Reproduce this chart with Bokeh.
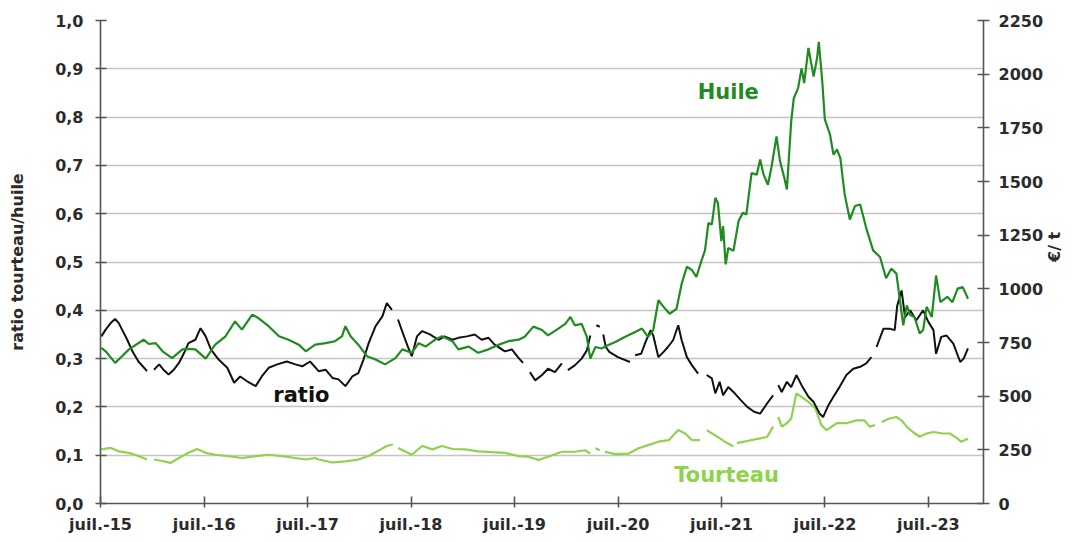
import math
import numpy as np
import pandas as pd
from bokeh.plotting import figure
from bokeh.models import (LinearAxis, Range1d, FixedTicker, CustomJSTickFormatter,
                          Label, ColumnDataSource)
from bokeh.embed import file_html
from bokeh.resources import INLINE

# ---------------- data (x = months since July 2015, None = gap) ----------------
huile = [(0.1, 725), (0.6, 709), (1.7, 655), (2.5, 686), (3.3, 718), (5.0, 763), (5.6, 743),
         (6.4, 747), (7.2, 709), (8.3, 677), (9.5, 718), (10.2, 720), (11.0, 718), (12.2, 675),
         (13.3, 740), (14.5, 779), (15.6, 848), (16.4, 810), (17.6, 880), (18.3, 864),
         (19.5, 826), (20.7, 779), (21.8, 763), (23.0, 740), (23.8, 709), (24.9, 740),
         (26.1, 747), (27.2, 756), (28.0, 779), (28.4, 826), (29.0, 779), (29.9, 740),
         (30.9, 686), (31.9, 671), (33.0, 648), (34.2, 677), (35.0, 718), (36.1, 702),
         (36.9, 747), (37.7, 731), (38.8, 763), (39.6, 779), (40.8, 756), (41.5, 718),
         (42.7, 731), (43.8, 702), (45.0, 718), (46.2, 740), (47.3, 756), (48.5, 763),
         (49.2, 777), (50.2, 824), (51.2, 808), (51.9, 783), (53.1, 815), (53.9, 837),
         (54.5, 869), (55.0, 830), (55.8, 837), (56.4, 776), (56.8, 675), (57.4, 729),
         (58.1, 722), (58.9, 738), (59.7, 752), (60.8, 776), (62.0, 799), (62.8, 815),
         (63.5, 776), (64.1, 808), (64.7, 947), (65.3, 916), (66.0, 884), (66.8, 907),
         (67.4, 1024), (68.0, 1103), (68.6, 1087), (69.1, 1055), (69.7, 1132), (70.1, 1179),
         (70.5, 1307), (70.9, 1300), (71.3, 1424), (71.6, 1400), (72.0, 1222), (72.2, 1292),
         (72.5, 1114), (72.8, 1190), (73.4, 1177), (74.0, 1316), (74.5, 1355), (74.9, 1346),
         (75.5, 1539), (76.1, 1532), (76.5, 1602), (76.9, 1532), (77.4, 1485), (77.8, 1564),
         (78.4, 1710), (78.8, 1595), (79.3, 1517), (79.6, 1463), (80.1, 1780), (80.4, 1888),
         (80.9, 1935), (81.3, 2027), (81.6, 1958), (82.1, 2122), (82.7, 1989), (83.1, 2075),
         (83.3, 2151), (83.7, 1967), (84.0, 1789), (84.6, 1719), (85.0, 1625), (85.4, 1649),
         (85.8, 1609), (86.3, 1440), (86.9, 1323), (87.5, 1386), (88.1, 1393), (88.8, 1283),
         (89.6, 1179), (90.4, 1148), (91.1, 1049), (91.7, 1094), (92.3, 1071), (92.7, 947),
         (93.1, 830), (93.5, 923), (93.9, 878), (94.4, 869), (95.0, 792), (95.4, 808),
         (95.8, 916), (96.4, 869), (96.9, 1062), (97.4, 938), (98.2, 963), (98.8, 938),
         (99.4, 1001), (100.0, 1008), (100.6, 954)]

tourteau = [(0.1, 252), (1.2, 259), (2.1, 243), (3.3, 236), (4.4, 221), (5.4, 205), (5.8, None),
            (6.2, 205), (7.2, 198), (8.1, 189), (9.1, 212), (10.2, 236), (11.2, 254), (12.2, 236),
            (13.3, 227), (14.9, 221), (16.4, 212), (18.0, 221), (19.5, 227), (21.1, 221),
            (22.6, 212), (23.8, 205), (24.9, 212), (25.3, 205), (26.9, 191), (28.4, 196),
            (29.9, 205), (31.1, 221), (32.1, 243), (33.2, 268), (33.9, 275), (34.2, None),
            (34.5, 259), (35.3, 243), (36.1, 227), (37.3, 268), (38.5, 252), (39.6, 268),
            (40.8, 254), (42.3, 252), (43.8, 243), (45.4, 239), (46.9, 236), (48.5, 221),
            (49.6, 218), (50.8, 203), (51.9, 218), (53.5, 241), (55.0, 241), (56.2, 248),
            (56.8, 232), (57.1, None), (57.4, 257), (57.9, 248), (58.2, None), (58.5, 241),
            (59.7, 230), (61.2, 232), (62.4, 257), (63.5, 272), (64.7, 288), (65.9, 295),
            (67.0, 342), (67.8, 326), (68.6, 295), (69.5, 295), (69.9, None), (70.3, 342),
            (71.3, 317), (72.4, 288), (73.4, 266), (73.6, None), (73.8, 281), (75.7, 297),
            (77.3, 310), (78.0, 358), (78.3, None), (78.6, 403), (79.0, 358), (79.6, 374),
            (80.1, 396), (80.7, 513), (81.3, 497), (82.1, 473), (82.9, 443), (83.6, 365),
            (84.2, 342), (85.4, 374), (86.5, 374), (87.7, 387), (88.6, 387), (89.2, 358),
            (89.8, 365), (90.2, None), (90.6, 380), (91.5, 396), (92.3, 403), (92.9, 387),
            (93.5, 358), (94.2, 333), (95.0, 311), (95.8, 326), (96.6, 333), (97.7, 326),
            (98.5, 326), (99.4, 302), (99.8, 288), (100.6, 302)]

ratio = [(0.1, 0.346), (0.6, 0.36), (1.2, 0.374), (1.7, 0.382), (2.1, 0.374), (2.5, 0.36),
         (3.1, 0.339), (3.7, 0.315), (4.4, 0.294), (5.4, 0.274), (5.8, None), (6.2, 0.277),
         (6.8, 0.288), (7.3, 0.277), (7.9, 0.267), (8.5, 0.277), (9.1, 0.291), (9.7, 0.312),
         (10.2, 0.332), (11.0, 0.339), (11.6, 0.363), (12.2, 0.346), (12.8, 0.319),
         (13.7, 0.298), (14.7, 0.281), (15.5, 0.25), (16.2, 0.263), (17.0, 0.253),
         (18.0, 0.243), (18.7, 0.263), (19.5, 0.281), (20.5, 0.288), (21.6, 0.294),
         (22.6, 0.288), (23.4, 0.284), (24.3, 0.294), (25.3, 0.274), (26.1, 0.277),
         (26.9, 0.26), (27.6, 0.257), (28.4, 0.243), (29.2, 0.263), (29.9, 0.27),
         (30.5, 0.298), (31.1, 0.332), (31.9, 0.367), (32.7, 0.388), (33.2, 0.415),
         (33.8, 0.401), (34.1, None), (34.5, 0.381), (35.2, 0.346), (35.7, 0.322),
         (36.1, 0.305), (36.7, 0.346), (37.3, 0.357), (38.2, 0.35), (39.2, 0.339),
         (39.9, 0.346), (40.8, 0.339), (41.5, 0.343), (42.5, 0.346), (43.4, 0.35),
         (44.2, 0.339), (45.0, 0.343), (45.7, 0.329), (46.9, 0.315), (47.7, 0.319),
         (48.5, 0.301), (49.0, 0.291), (49.4, None), (49.8, 0.272), (50.4, 0.255),
         (51.2, 0.266), (51.9, 0.279), (52.7, 0.272), (53.5, 0.29), (53.8, None),
         (54.2, 0.276), (55.0, 0.286), (55.8, 0.30), (56.4, 0.317), (56.8, 0.348),
         (57.2, None), (57.5, 0.369), (57.9, 0.366), (58.1, None), (58.3, 0.35),
         (58.6, 0.324), (59.0, 0.314), (60.0, 0.303), (61.4, 0.293), (61.7, None),
         (62.0, 0.307), (62.7, 0.31), (63.2, 0.334), (63.8, 0.359), (64.1, 0.348),
         (64.7, 0.303), (65.3, 0.314), (65.8, 0.324), (66.4, 0.338), (67.0, 0.369),
         (67.4, 0.338), (68.0, 0.303), (68.6, 0.286), (69.3, 0.269), (69.8, None),
         (70.3, 0.266), (70.9, 0.259), (71.3, 0.228), (71.8, 0.252), (72.2, 0.224),
         (72.8, 0.241), (73.4, 0.231), (74.2, 0.215), (75.0, 0.20), (75.8, 0.19),
         (76.5, 0.186), (77.3, 0.207), (78.0, 0.224), (78.3, None), (78.6, 0.245),
         (79.0, 0.231), (79.6, 0.252), (80.1, 0.241), (80.7, 0.266), (81.3, 0.245),
         (82.1, 0.221), (82.7, 0.21), (83.4, 0.186), (83.8, 0.179), (84.4, 0.203),
         (85.0, 0.221), (85.7, 0.241), (86.5, 0.266), (87.3, 0.279), (88.1, 0.283),
         (88.8, 0.29), (89.4, 0.303), (89.7, None), (90.0, 0.324), (90.8, 0.362),
         (91.5, 0.362), (92.1, 0.359), (92.4, 0.41), (92.9, 0.441), (93.3, 0.386),
         (93.9, 0.40), (94.6, 0.379), (95.4, 0.40), (96.0, 0.376), (96.6, 0.359),
         (96.9, 0.31), (97.5, 0.345), (98.1, 0.348), (98.9, 0.331), (99.7, 0.293),
         (100.1, 0.30), (100.6, 0.321)]

ratio_ticks = [0.0, 0.1, 0.2, 0.3, 0.4, 0.5, 0.6, 0.7, 0.8, 0.9, 1.0]
eur_ticks = [0, 250, 500, 750, 1000, 1250, 1500, 1750, 2000, 2250]
year_ticks = [2015, 2016, 2017, 2018, 2019, 2020, 2021, 2022, 2023]

# ---------------- helpers ----------------
START_MS = pd.Timestamp("2015-07-01").timestamp() * 1000.0
MONTH_MS = 30.4375 * 86400000.0


def month_to_ms(m):
    return START_MS + m * MONTH_MS


def to_source(pairs):
    xs = [month_to_ms(m) for m, _ in pairs]
    ys = [np.nan if v is None else float(v) for _, v in pairs]
    return ColumnDataSource(dict(x=xs, y=ys))


FONT = "DejaVu Sans"
TXT = "#2b2b2b"
C_HUILE = "#1f8c1f"
C_TOURT = "#8fd24e"
C_RATIO = "#111111"

p = figure(frame_width=883, frame_height=483, x_axis_type="datetime",
           x_range=Range1d(month_to_ms(0), month_to_ms(102.4)),
           y_range=Range1d(0, 1),
           output_backend="svg", toolbar_location=None,
           min_border_left=100, min_border_right=84, min_border_top=20, min_border_bottom=34)
p.outline_line_color = None
p.background_fill_color = "white"
p.border_fill_color = "white"
p.extra_y_ranges = {"eur": Range1d(0, 2250)}

# grid
p.xgrid.visible = False
p.ygrid.ticker = FixedTicker(ticks=ratio_ticks)
p.ygrid.grid_line_color = "#c4c4c4"
p.ygrid.grid_line_width = 1.6

# left axis
ya = p.yaxis[0]
ya.ticker = FixedTicker(ticks=ratio_ticks)
ya.formatter = CustomJSTickFormatter(code="return tick.toFixed(1).replace('.', ',');")
ya.axis_label = "ratio tourteau/huile"
ya.axis_label_standoff = 25
ya.major_label_standoff = 12

# bottom axis
xa = p.xaxis[0]
xa.ticker = FixedTicker(ticks=[pd.Timestamp(f"{y}-07-01").timestamp() * 1000.0 for y in year_ticks])
xa.formatter = CustomJSTickFormatter(
    code="const d = new Date(tick); return 'juil.-' + String(d.getUTCFullYear()).slice(2);")
xa.major_label_standoff = 7

# right axis
ra = LinearAxis(y_range_name="eur", ticker=FixedTicker(ticks=eur_ticks), axis_label="€/ t")
ra.axis_label_standoff = 8
ra.major_label_standoff = 9
ra.axis_label_orientation = math.pi / 2
p.add_layout(ra, "right")

for ax in [ya, xa, ra]:
    ax.axis_line_color = "#555555"
    ax.axis_line_width = 1.6
    ax.major_tick_line_color = "#555555"
    ax.major_tick_line_width = 1.6
    ax.minor_tick_line_color = None
    ax.major_label_text_font = FONT
    ax.major_label_text_font_style = "bold"
    ax.major_label_text_font_size = "16px"
    ax.major_label_text_color = TXT
    ax.axis_label_text_font = FONT
    ax.axis_label_text_font_style = "bold"
    ax.axis_label_text_font_size = "16px"
    ax.axis_label_text_color = TXT

ya.major_tick_in = 6
ya.major_tick_out = 5
ra.major_tick_in = 6
ra.major_tick_out = 6
xa.major_tick_in = 7
xa.major_tick_out = 4

# series
p.line("x", "y", source=to_source(tourteau), y_range_name="eur", line_color=C_TOURT, line_width=2.2)
p.line("x", "y", source=to_source(ratio), line_color=C_RATIO, line_width=2.0)
p.line("x", "y", source=to_source(huile), y_range_name="eur", line_color=C_HUILE, line_width=2.2)

# series labels
for txt, m, yv, col in [("Huile", 72.8, 0.851, C_HUILE),
                        ("ratio", 23.3, 0.224, C_RATIO),
                        ("Tourteau", 72.6, 0.058, C_TOURT)]:
    p.add_layout(Label(x=month_to_ms(m), y=yv, text=txt, text_align="center",
                       text_baseline="middle", text_font=FONT, text_font_style="bold",
                       text_font_size="21px", text_color=col))

open("out.html", "w").write(file_html(p, INLINE))
